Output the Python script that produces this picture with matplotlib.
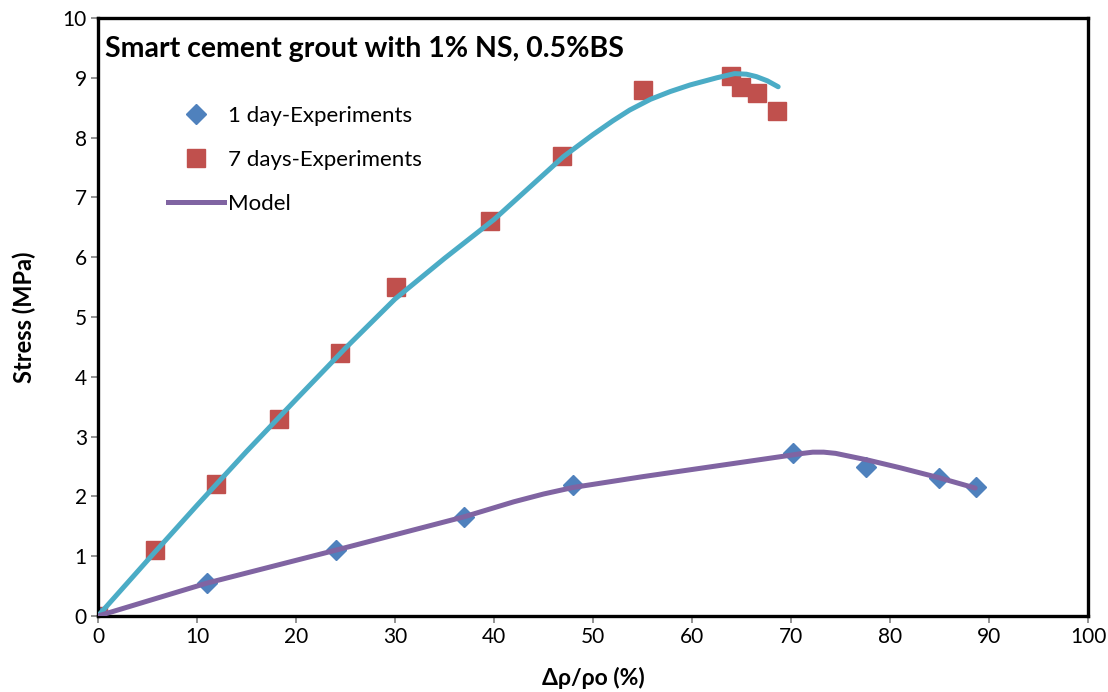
import matplotlib
matplotlib.use("Agg")
import matplotlib.pyplot as plt
from matplotlib.lines import Line2D

plt.rcParams['font.family'] = ['Lato', 'DejaVu Sans']

# 1 day experiments
x_1day = [0, 11.0, 24.0, 37.0, 48.0, 70.2, 77.6, 84.9, 88.7]
y_1day = [0, 0.55, 1.10, 1.66, 2.19, 2.73, 2.49, 2.31, 2.16]

# 7 days experiments
x_7day = [0, 5.8, 11.9, 18.3, 24.4, 30.1, 39.6, 46.9, 55.1, 63.9, 64.9, 66.6, 68.6]
y_7day = [0, 1.10, 2.20, 3.30, 4.40, 5.50, 6.60, 7.69, 8.80, 9.03, 8.85, 8.75, 8.44]

# Model curves
x_model7 = [0, 5, 10, 15, 20, 25, 30, 35, 40, 45, 47, 50, 52, 53.7, 55.8, 57.8, 59.8, 62.5, 64.3, 65.5, 66.5, 67.6, 68.7]
y_model7 = [0, 0.93, 1.85, 2.75, 3.62, 4.48, 5.30, 5.98, 6.63, 7.38, 7.68, 8.05, 8.28, 8.46, 8.64, 8.77, 8.88, 9.00, 9.07, 9.06, 9.02, 8.95, 8.85]

x_model1 = [0, 11, 24, 37, 42, 45, 48, 55, 60, 65, 70, 71.2, 72.2, 73.3, 74.5, 77.7, 81, 85, 88.6]
y_model1 = [0, 0.55, 1.10, 1.66, 1.91, 2.04, 2.15, 2.33, 2.45, 2.57, 2.69, 2.72, 2.74, 2.74, 2.72, 2.61, 2.48, 2.31, 2.14]

x_ticks = [0, 10, 20, 30, 40, 50, 60, 70, 80, 90, 100]
y_ticks = [0, 1, 2, 3, 4, 5, 6, 7, 8, 9, 10]

c_diamond = '#4F81BD'
c_square = '#C0504D'
c_cyan = '#4BACC6'
c_purple = '#8064A2'

fig = plt.figure(figsize=(11.08, 6.92), dpi=100)
ax = fig.add_axes([0.0884, 0.1098, 0.8936, 0.8642])

ax.plot(x_7day, y_7day, linestyle='none', marker='s', markersize=13.5,
        color=c_square, zorder=2)
ax.plot(x_1day, y_1day, linestyle='none', marker='D', markersize=10,
        color=c_diamond, zorder=2)
ax.plot(x_model7, y_model7, color=c_cyan, lw=3.6, zorder=3,
        solid_capstyle='round', solid_joinstyle='round')
ax.plot(x_model1, y_model1, color=c_purple, lw=3.6, zorder=3,
        solid_capstyle='round', solid_joinstyle='round')

ax.set_xlim(0, 100)
ax.set_ylim(0, 10)
ax.set_xticks(x_ticks)
ax.set_yticks(y_ticks)
ax.tick_params(axis='both', direction='out', length=5, width=1.2, color='#808080',
               labelsize=15, pad=3)
for s in ax.spines.values():
    s.set_linewidth(2.4)
    s.set_color('black')

ax.set_xlabel('Δρ/ρo (%)', fontsize=16.5, fontweight='bold', labelpad=14)
ax.set_ylabel('Stress (MPa)', fontsize=17, fontweight='bold', labelpad=19)

ax.text(0.007, 0.948, 'Smart cement grout with 1% NS, 0.5%BS', transform=ax.transAxes,
        fontsize=20.5, fontweight='bold', ha='left', va='center')

handles = [
    Line2D([], [], linestyle='none', marker='D', markersize=10, color=c_diamond),
    Line2D([], [], linestyle='none', marker='s', markersize=13, color=c_square),
    Line2D([], [], color=c_purple, lw=3.6),
]
labels = ['1 day-Experiments', '7 days-Experiments', 'Model']
ax.legend(handles, labels, loc='upper left', bbox_to_anchor=(0.062, 0.868), frameon=False,
          fontsize=16, handlelength=2.5, labelspacing=1.08, handletextpad=0.2,
          borderaxespad=0)

fig.savefig('out.png', dpi=100)
